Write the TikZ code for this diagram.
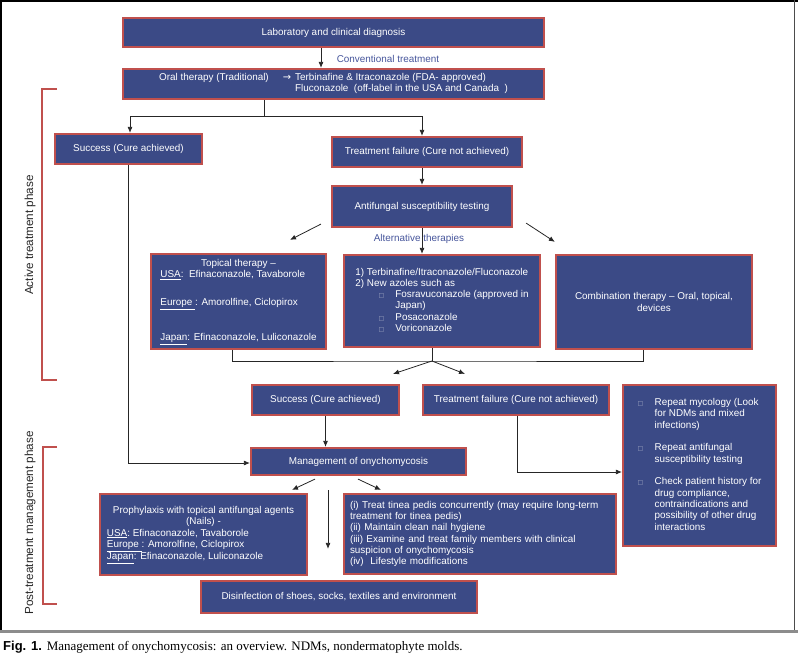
\documentclass[tikz,border=0pt]{standalone}
\usepackage{fontspec}
\setmainfont{Liberation Sans}
\newfontfamily\simbolos{DejaVu Sans}
\newfontfamily\serifpie{Liberation Serif}
\usetikzlibrary{arrows.meta}
\definecolor{azulcaja}{RGB}{59,74,134}
\definecolor{rojoborde}{RGB}{192,80,77}
\definecolor{azultexto}{RGB}{70,85,155}
\definecolor{grisvineta}{RGB}{170,176,200}
\newcommand{\cuadro}{\makebox[40pt][r]{{\simbolos\fontsize{6}{6}\selectfont\color{grisvineta}□}\hspace{11pt}}}
\newcommand{\cuadrito}{\makebox[17pt][l]{{\simbolos\fontsize{6}{6}\selectfont\color{grisvineta}□}}}
\tikzstyle{caja} = [draw=rojoborde, fill=azulcaja, line width=2.2pt, rectangle, text=white, inner sep=0pt, align=center, font=\fontsize{9.9}{11.3}\selectfont]
\tikzstyle{flecha} = [-{Latex[length=6pt,width=5pt]}, line width=0.8pt, draw=black!85]
\tikzstyle{linea} = [line width=0.8pt, draw=black!85]
\tikzstyle{etiqueta} = [text=azultexto, font=\fontsize{9.9}{11}\selectfont, inner sep=0pt]
\tikzstyle{corchete} = [draw=rojoborde, line width=2.4pt]
\tikzstyle{fase} = [font=\fontsize{11.7}{13}\selectfont, text=black!85, inner sep=0pt, rotate=90]

\begin{document}
\begin{tikzpicture}[x=1pt,y=-1pt]
	\useasboundingbox (0,0) rectangle (798,666);
	\draw[line width=2pt] (0,1) -- (798,1);
	\draw[line width=1.5pt] (1,0) -- (1,631);
	\draw[line width=1pt, black!70] (794,0) -- (794,631);
	\draw[line width=2.5pt, black!45] (0,631.5) -- (798,631.5);

	\node[caja, minimum width=421pt, minimum height=29pt](diagnostico) at (333.5,32.5) {Laboratory and clinical diagnosis};
	\node[caja, minimum width=421pt, minimum height=30pt](oral) at (333.5,84) {
		\begin{tabular}{@{}l@{\hspace{4pt}}l@{}}
			Oral therapy (Traditional)\hspace{14pt}{\simbolos →} & Terbinafine \& Itraconazole (FDA- approved)\\
			& Fluconazole\ \ (off-label in the USA and Canada\ \ )
		\end{tabular}};
	\node[etiqueta](convencional) at (388,59) {Conventional treatment};

	\node[caja, minimum width=147pt, minimum height=30pt](exito) at (128.5,149) {Success (Cure achieved)};
	\node[caja, minimum width=190pt, minimum height=30pt](fracaso) at (427,152) {Treatment failure (Cure not achieved)};
	\node[caja, minimum width=180pt, minimum height=41pt](susceptibilidad) at (422,206.5) {Antifungal susceptibility testing};
	\node[etiqueta](alternativas) at (419,239) {Alternative therapies};

	\node[caja, minimum width=175pt, minimum height=95pt](topica) at (238.5,301.5) {
		\begin{tabular}{@{}l@{}}
			\multicolumn{1}{c}{Topical therapy –}\\
			\underline{USA}:\ \ Efinaconazole, Tavaborole\\[16.5pt]
			\underline{Europe\ }: Amorolfine, Ciclopirox\\[23.5pt]
			\underline{Japan}: Efinaconazole, Luliconazole
		\end{tabular}};
	\node[caja, minimum width=196pt, minimum height=92pt](nuevas) at (442,301) {
		\begin{tabular}{@{}l@{}}
			1) Terbinafine/Itraconazole/Fluconazole\\
			2) New azoles such as\\
			\cuadro Fosravuconazole (approved in\\
			\hspace*{40pt}Japan)\\
			\cuadro Posaconazole\\
			\cuadro Voriconazole
		\end{tabular}};
	\node[caja, minimum width=196pt, minimum height=94pt](combinada) at (654,302) {Combination therapy – Oral, topical,\\devices};

	\node[caja, minimum width=147pt, minimum height=30pt](exito2) at (325.5,400) {Success (Cure achieved)};
	\node[caja, minimum width=186pt, minimum height=30pt](fracaso2) at (516,400) {Treatment failure (Cure not achieved)};
	\node[caja, minimum width=215pt, minimum height=27pt](manejo) at (358.5,461.5) {Management of onychomycosis};
	\node[caja, minimum width=153pt, minimum height=161pt](repetir) at (699.5,465.5) {
		\begin{tabular}{@{}l@{}l@{}}
			\cuadrito & Repeat mycology (Look\\
			& for NDMs and mixed\\
			& infections)\\[11.5pt]
			\cuadrito & Repeat antifungal\\
			& susceptibility testing\\[11.5pt]
			\cuadrito & Check patient history for\\
			& drug compliance,\\
			& contraindications and\\
			& possibility of other drug\\
			& interactions
		\end{tabular}};

	\node[caja, minimum width=207pt, minimum height=81pt](profilaxis) at (203.5,534.5) {
		\begin{tabular}{@{}p{191pt}@{}}
			\multicolumn{1}{c}{Prophylaxis with topical antifungal agents}\\
			\multicolumn{1}{c}{(Nails) -}\\
			\underline{USA}:\ Efinaconazole, Tavaborole\\
			\underline{Europe\ }: Amorolfine, Ciclopirox\\
			\underline{Japan}: Efinaconazole, Luliconazole
		\end{tabular}};
	\node[caja, minimum width=272pt, minimum height=80pt, text width=260pt, align=left](medidas) at (480,534) {(i) Treat tinea pedis concurrently (may require long-term\\
		treatment for tinea pedis)\\
		(ii) Maintain clean nail hygiene\\
		(iii) Examine and treat family members with clinical\\
		suspicion of onychomycosis\\
		(iv)\ \ Lifestyle modifications};
	\node[caja, minimum width=276pt, minimum height=32pt](desinfeccion) at (339,597) {Disinfection of shoes, socks, textiles and environment};

	\draw[flecha] ([xshift=-12.5pt]diagnostico.south) -- ([xshift=-12.5pt]oral.north);
	\coordinate (rama) at (264,116);
	\draw[linea] ([xshift=-69.5pt]oral.south) -- (rama);
	\draw[flecha] (rama) -| ([xshift=1.5pt]exito.north);
	\draw[flecha] (rama) -| ([xshift=-5pt]fracaso.north);
	\draw[flecha] ([xshift=-5pt]fracaso.south) -- (susceptibilidad.north);
	\draw[flecha] (susceptibilidad.south) -- ([xshift=-20pt]nuevas.north);
	\draw[flecha] ([xshift=-10pt,yshift=4pt]susceptibilidad.south west) -- ([xshift=51.5pt,yshift=13pt]topica.north);
	\draw[flecha] ([xshift=13pt,yshift=5pt]susceptibilidad.south east) -- ([yshift=12pt]combinada.north west);

	\coordinate (junta) at (432,361);
	\draw[linea] ([xshift=-6.5pt]topica.south) |- (junta) -| ([xshift=-11pt]combinada.south);
	\draw[linea] ([xshift=-10pt]nuevas.south) -- (junta);
	\draw[flecha] (junta) -- ([xshift=67.5pt,yshift=10pt]exito2.north);
	\draw[flecha] (junta) -- ([xshift=-51pt,yshift=10pt]fracaso2.north);

	\draw[flecha] (exito2.south) -- (exito2.south |- manejo.north);
	\draw[flecha] (exito.south) |- ([yshift=-1.5pt]manejo.west);
	\draw[flecha] ([xshift=1pt]fracaso2.south) |- ([yshift=-6.5pt]repetir.west);
	\draw[flecha] ([xshift=-43.5pt,yshift=-3pt]manejo.south) -- ([xshift=88.5pt,yshift=3pt]profilaxis.north);
	\draw[flecha] ([xshift=-0.5pt,yshift=-3pt]manejo.south) -- ([xshift=-99pt,yshift=3pt]medidas.north);
	\draw[flecha] ([xshift=-30.5pt,yshift=-14pt]manejo.south) -- ([xshift=-11pt,yshift=31pt]desinfeccion.north);

	\draw[corchete] (57,89) -- (42,89) -- (42,380) -- (57,380);
	\draw[corchete] (57,447) -- (43,447) -- (43,604) -- (57,604);
	\node[fase](activa) at (30,235) {Active treatment phase};
	\node[fase](postratamiento) at (30,523) {Post-treatment management phase};

	\node[anchor=west, inner sep=0pt, font=\fontsize{13}{15}\selectfont](pie) at (3,647) {{\bfseries Fig. 1.} {\serifpie Management of onychomycosis: an overview. NDMs, nondermatophyte molds.}};
\end{tikzpicture}
\end{document}
